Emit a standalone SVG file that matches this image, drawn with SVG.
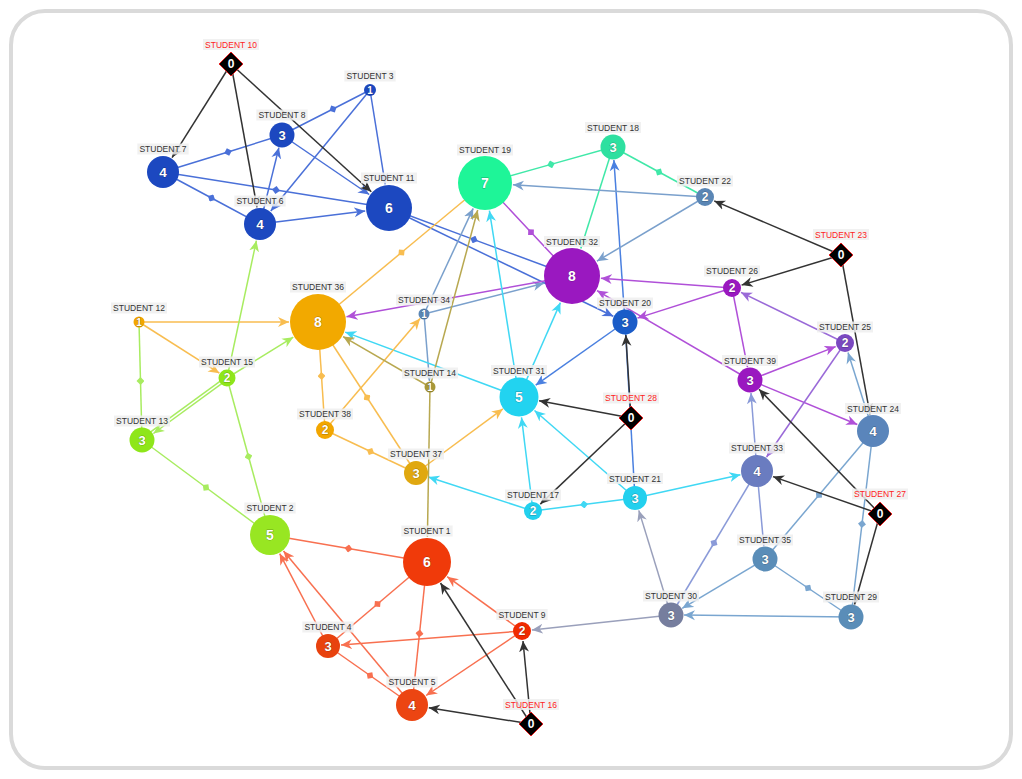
<svg xmlns="http://www.w3.org/2000/svg" width="1022" height="779" viewBox="0 0 1022 779">
<style>
.e{fill:none;stroke-width:1.5}
.k{stroke:#333}.b{stroke:#4a70d8}.b2{stroke:#4a80e0}.g{stroke:#40e8a8}.st{stroke:#7aa0cc}.p{stroke:#b050d8}.lv{stroke:#9a6ad8}.sb{stroke:#7aa6d0}.s33{stroke:#8a9ad8}.s30{stroke:#9aa0bb}.c{stroke:#40d8f4}.o{stroke:#f8bd50}.ol{stroke:#b8a850}.l{stroke:#a8ec60}.r{stroke:#f87050}
.n{font-family:"Liberation Sans",Arial,sans-serif;font-weight:bold;fill:#fff;text-anchor:middle;stroke:rgba(0,0,0,0.35);stroke-width:0.8;paint-order:stroke}
.lb{fill:#eeeeee;fill-opacity:0.85}
.lt{font-family:"Liberation Sans",Arial,sans-serif;font-size:8.5px;fill:#333;text-anchor:middle}
.lr{fill:#ff2222}
.dm{fill:#000;stroke:#e02020;stroke-width:1}
</style>
<defs>
<marker id="a-k" viewBox="0 0 10 10" refX="10" refY="5" markerWidth="11" markerHeight="11" markerUnits="userSpaceOnUse" orient="auto"><path d="M0,0.5 L10,5 L0,9.5 L3,5 Z" fill="#333"/></marker>
<marker id="a-b" viewBox="0 0 10 10" refX="10" refY="5" markerWidth="11" markerHeight="11" markerUnits="userSpaceOnUse" orient="auto"><path d="M0,0.5 L10,5 L0,9.5 L3,5 Z" fill="#4a70d8"/></marker>
<marker id="a-b2" viewBox="0 0 10 10" refX="10" refY="5" markerWidth="11" markerHeight="11" markerUnits="userSpaceOnUse" orient="auto"><path d="M0,0.5 L10,5 L0,9.5 L3,5 Z" fill="#4a80e0"/></marker>
<marker id="a-g" viewBox="0 0 10 10" refX="10" refY="5" markerWidth="11" markerHeight="11" markerUnits="userSpaceOnUse" orient="auto"><path d="M0,0.5 L10,5 L0,9.5 L3,5 Z" fill="#40e8a8"/></marker>
<marker id="a-st" viewBox="0 0 10 10" refX="10" refY="5" markerWidth="11" markerHeight="11" markerUnits="userSpaceOnUse" orient="auto"><path d="M0,0.5 L10,5 L0,9.5 L3,5 Z" fill="#7aa0cc"/></marker>
<marker id="a-p" viewBox="0 0 10 10" refX="10" refY="5" markerWidth="11" markerHeight="11" markerUnits="userSpaceOnUse" orient="auto"><path d="M0,0.5 L10,5 L0,9.5 L3,5 Z" fill="#b050d8"/></marker>
<marker id="a-lv" viewBox="0 0 10 10" refX="10" refY="5" markerWidth="11" markerHeight="11" markerUnits="userSpaceOnUse" orient="auto"><path d="M0,0.5 L10,5 L0,9.5 L3,5 Z" fill="#9a6ad8"/></marker>
<marker id="a-sb" viewBox="0 0 10 10" refX="10" refY="5" markerWidth="11" markerHeight="11" markerUnits="userSpaceOnUse" orient="auto"><path d="M0,0.5 L10,5 L0,9.5 L3,5 Z" fill="#7aa6d0"/></marker>
<marker id="a-s33" viewBox="0 0 10 10" refX="10" refY="5" markerWidth="11" markerHeight="11" markerUnits="userSpaceOnUse" orient="auto"><path d="M0,0.5 L10,5 L0,9.5 L3,5 Z" fill="#8a9ad8"/></marker>
<marker id="a-s30" viewBox="0 0 10 10" refX="10" refY="5" markerWidth="11" markerHeight="11" markerUnits="userSpaceOnUse" orient="auto"><path d="M0,0.5 L10,5 L0,9.5 L3,5 Z" fill="#9aa0bb"/></marker>
<marker id="a-c" viewBox="0 0 10 10" refX="10" refY="5" markerWidth="11" markerHeight="11" markerUnits="userSpaceOnUse" orient="auto"><path d="M0,0.5 L10,5 L0,9.5 L3,5 Z" fill="#40d8f4"/></marker>
<marker id="a-o" viewBox="0 0 10 10" refX="10" refY="5" markerWidth="11" markerHeight="11" markerUnits="userSpaceOnUse" orient="auto"><path d="M0,0.5 L10,5 L0,9.5 L3,5 Z" fill="#f8bd50"/></marker>
<marker id="a-ol" viewBox="0 0 10 10" refX="10" refY="5" markerWidth="11" markerHeight="11" markerUnits="userSpaceOnUse" orient="auto"><path d="M0,0.5 L10,5 L0,9.5 L3,5 Z" fill="#b8a850"/></marker>
<marker id="a-l" viewBox="0 0 10 10" refX="10" refY="5" markerWidth="11" markerHeight="11" markerUnits="userSpaceOnUse" orient="auto"><path d="M0,0.5 L10,5 L0,9.5 L3,5 Z" fill="#a8ec60"/></marker>
<marker id="a-r" viewBox="0 0 10 10" refX="10" refY="5" markerWidth="11" markerHeight="11" markerUnits="userSpaceOnUse" orient="auto"><path d="M0,0.5 L10,5 L0,9.5 L3,5 Z" fill="#f87050"/></marker>
<marker id="d-b" viewBox="0 0 8 8" refX="4" refY="4" markerWidth="8" markerHeight="8" markerUnits="userSpaceOnUse" orient="auto"><path d="M0,4 L4,0 L8,4 L4,8 Z" fill="#4a70d8"/></marker>
<marker id="d-g" viewBox="0 0 8 8" refX="4" refY="4" markerWidth="8" markerHeight="8" markerUnits="userSpaceOnUse" orient="auto"><path d="M0,4 L4,0 L8,4 L4,8 Z" fill="#40e8a8"/></marker>
<marker id="d-p" viewBox="0 0 8 8" refX="4" refY="4" markerWidth="8" markerHeight="8" markerUnits="userSpaceOnUse" orient="auto"><path d="M0,4 L4,0 L8,4 L4,8 Z" fill="#b050d8"/></marker>
<marker id="d-o" viewBox="0 0 8 8" refX="4" refY="4" markerWidth="8" markerHeight="8" markerUnits="userSpaceOnUse" orient="auto"><path d="M0,4 L4,0 L8,4 L4,8 Z" fill="#f8bd50"/></marker>
<marker id="d-sb" viewBox="0 0 8 8" refX="4" refY="4" markerWidth="8" markerHeight="8" markerUnits="userSpaceOnUse" orient="auto"><path d="M0,4 L4,0 L8,4 L4,8 Z" fill="#7aa6d0"/></marker>
<marker id="d-s33" viewBox="0 0 8 8" refX="4" refY="4" markerWidth="8" markerHeight="8" markerUnits="userSpaceOnUse" orient="auto"><path d="M0,4 L4,0 L8,4 L4,8 Z" fill="#8a9ad8"/></marker>
<marker id="d-c" viewBox="0 0 8 8" refX="4" refY="4" markerWidth="8" markerHeight="8" markerUnits="userSpaceOnUse" orient="auto"><path d="M0,4 L4,0 L8,4 L4,8 Z" fill="#40d8f4"/></marker>
<marker id="d-l" viewBox="0 0 8 8" refX="4" refY="4" markerWidth="8" markerHeight="8" markerUnits="userSpaceOnUse" orient="auto"><path d="M0,4 L4,0 L8,4 L4,8 Z" fill="#a8ec60"/></marker>
<marker id="d-r" viewBox="0 0 8 8" refX="4" refY="4" markerWidth="8" markerHeight="8" markerUnits="userSpaceOnUse" orient="auto"><path d="M0,4 L4,0 L8,4 L4,8 Z" fill="#f87050"/></marker>
</defs>
<rect x="0" y="0" width="1022" height="779" fill="#fff"/>
<rect x="11" y="11" width="1000" height="757" rx="34" fill="#fff" stroke="#dadada" stroke-width="4"/>

<g id="connectors">
<!-- blue cluster -->
<path class="e b" d="M370,90 L333,109 L282,135" marker-mid="url(#d-b)"/>
<path class="e b" d="M163,172 L228,152 L282,135" marker-mid="url(#d-b)"/>
<path class="e b" d="M163,172 L276,190 L389,208" marker-mid="url(#d-b)"/>
<path class="e b" d="M163,172 L211.5,198 L260,224" marker-mid="url(#d-b)"/>
<path class="e b" d="M389,208 L474,239.6 L572,276" marker-mid="url(#d-b)"/>
<line class="e b" x1="370" y1="90" x2="270.8" y2="210.9" marker-end="url(#a-b)"/>
<line class="e b" x1="370" y1="90" x2="385.2" y2="184.3" marker-end="url(#a-b)"/>
<line class="e b" x1="260" y1="224" x2="278.9" y2="147.6" marker-end="url(#a-b)"/>
<line class="e b" x1="260" y1="224" x2="365.2" y2="211" marker-end="url(#a-b)"/>
<line class="e b" x1="282" y1="135" x2="369.2" y2="194.5" marker-end="url(#a-b)"/>
<line class="e b" x1="389" y1="208" x2="613.3" y2="316.3" marker-end="url(#a-b)"/>
<!-- S20 -->
<line class="e b2" x1="625" y1="322" x2="613.9" y2="160" marker-end="url(#a-b2)"/>
<line class="e b2" x1="625" y1="322" x2="535.7" y2="385.2" marker-end="url(#a-b2)"/>
<line class="e b2" x1="625" y1="322" x2="635" y2="498"/>
<!-- green -->
<path class="e g" d="M485,183 L551,164.4 L613,147" marker-mid="url(#d-g)"/>
<path class="e g" d="M613,147 L659,172 L705,197" marker-mid="url(#d-g)"/>
<line class="e g" x1="613" y1="147" x2="580.8" y2="248.4" marker-end="url(#a-g)"/>
<!-- steel -->
<line class="e st" x1="705" y1="197" x2="512.9" y2="184.8" marker-end="url(#a-st)"/>
<line class="e st" x1="705" y1="197" x2="596.9" y2="261.2" marker-end="url(#a-st)"/>
<line class="e st" x1="424" y1="314" x2="429.5" y2="381" marker-end="url(#a-st)"/>
<line class="e st" x1="424" y1="314" x2="473.2" y2="208.4" marker-end="url(#a-st)"/>
<line class="e st" x1="424" y1="314" x2="543.9" y2="283.2" marker-end="url(#a-st)"/>
<!-- purple -->
<path class="e p" d="M572,276 L531,232.2 L485,183" marker-mid="url(#d-p)"/>
<line class="e p" x1="732" y1="288" x2="600.9" y2="278.2" marker-end="url(#a-p)"/>
<line class="e p" x1="732" y1="288" x2="637.4" y2="318.1" marker-end="url(#a-p)"/>
<line class="e p" x1="732" y1="288" x2="747.5" y2="367.2" marker-end="url(#a-p)"/>
<line class="e p" x1="750" y1="380" x2="835.7" y2="346.6" marker-end="url(#a-p)"/>
<line class="e p" x1="750" y1="380" x2="857.3" y2="424.5" marker-end="url(#a-p)"/>
<line class="e p" x1="750" y1="380" x2="597" y2="290.6" marker-end="url(#a-p)"/>
<line class="e p" x1="572" y1="276" x2="346.5" y2="316.8" marker-end="url(#a-p)"/>
<line class="e lv" x1="845" y1="343" x2="741" y2="292.4" marker-end="url(#a-lv)"/>
<line class="e lv" x1="845" y1="343" x2="766.6" y2="457" marker-end="url(#a-lv)"/>
<!-- steel blue right -->
<path class="e sb" d="M873,431 L819,495 L765,559" marker-mid="url(#d-sb)"/>
<path class="e sb" d="M873,431 L862,524 L851,617" marker-mid="url(#d-sb)"/>
<path class="e sb" d="M765,559 L808,588 L851,617" marker-mid="url(#d-sb)"/>
<line class="e sb" x1="873" y1="431" x2="848" y2="352.5" marker-end="url(#a-sb)"/>
<line class="e sb" x1="765" y1="559" x2="682.2" y2="608.3" marker-end="url(#a-sb)"/>
<line class="e sb" x1="851" y1="617" x2="684" y2="615.1" marker-end="url(#a-sb)"/>
<path class="e s33" d="M757,471 L714,543 L671,615" marker-mid="url(#d-s33)"/>
<line class="e s33" x1="757" y1="471" x2="751" y2="393" marker-end="url(#a-s33)"/>
<line class="e s33" x1="757" y1="471" x2="763.8" y2="546.1" marker-end="url(#a-s33)"/>
<line class="e s30" x1="671" y1="615" x2="638.8" y2="510.4" marker-end="url(#a-s30)"/>
<line class="e s30" x1="671" y1="615" x2="531.9" y2="629.9" marker-end="url(#a-s30)"/>
<!-- cyan -->
<path class="e c" d="M635,498 L584,504.5 L533,511" marker-mid="url(#d-c)"/>
<line class="e c" x1="635" y1="498" x2="740.4" y2="474.7" marker-end="url(#a-c)"/>
<line class="e c" x1="635" y1="498" x2="534.5" y2="410.5" marker-end="url(#a-c)"/>
<line class="e c" x1="533" y1="511" x2="521.5" y2="417.4" marker-end="url(#a-c)"/>
<line class="e c" x1="533" y1="511" x2="428.4" y2="477" marker-end="url(#a-c)"/>
<line class="e c" x1="519" y1="397" x2="345.2" y2="332.1" marker-end="url(#a-c)"/>
<line class="e c" x1="519" y1="397" x2="489.4" y2="210.7" marker-end="url(#a-c)"/>
<line class="e c" x1="519" y1="397" x2="560.4" y2="302.6" marker-end="url(#a-c)"/>
<!-- orange -->
<path class="e o" d="M318,322 L401.5,252.5 L485,183" marker-mid="url(#d-o)"/>
<path class="e o" d="M416,473 L370.5,451.5 L325,430" marker-mid="url(#d-o)"/>
<path class="e o" d="M416,473 L367,397.5 L318,322" marker-mid="url(#d-o)"/>
<path class="e o" d="M318,322 L321.5,376 L325,430" marker-mid="url(#d-o)"/>
<line class="e o" x1="416" y1="473" x2="502.9" y2="408.9" marker-end="url(#a-o)"/>
<line class="e o" x1="325" y1="430" x2="420.1" y2="318.6" marker-end="url(#a-o)"/>
<line class="e o" x1="139" y1="322" x2="289" y2="322" marker-end="url(#a-o)"/>
<line class="e o" x1="139" y1="322" x2="219.4" y2="373.2" marker-end="url(#a-o)"/>
<!-- olive -->
<line class="e ol" x1="430" y1="387" x2="343.1" y2="336.6" marker-end="url(#a-ol)"/>
<line class="e ol" x1="430" y1="387" x2="477.7" y2="210" marker-end="url(#a-ol)"/>
<line class="e ol" x1="430" y1="387" x2="427.4" y2="537" marker-end="url(#a-ol)"/>
<!-- lime -->
<path class="e l" d="M142,440 L140.5,381 L139,322" marker-mid="url(#d-l)"/>
<path class="e l" d="M227,378 L248.5,456.5 L270,535" marker-mid="url(#d-l)"/>
<path class="e l" d="M142,440 L206,487.5 L270,535" marker-mid="url(#d-l)"/>
<line class="e l" x1="227" y1="378" x2="293.3" y2="337.2" marker-end="url(#a-l)"/>
<line class="e l" x1="227.9" y1="379.2" x2="153.4" y2="433.5" marker-end="url(#a-l)"/>
<line class="e l" x1="226.1" y1="376.8" x2="141.1" y2="438.8"/>
<line class="e l" x1="227" y1="378" x2="256.4" y2="240.6" marker-end="url(#a-l)"/>
<!-- red -->
<path class="e r" d="M427,562 L348.5,548.5 L270,535" marker-mid="url(#d-r)"/>
<path class="e r" d="M427,562 L377.5,604 L328,646" marker-mid="url(#d-r)"/>
<path class="e r" d="M427,562 L419.5,633.5 L412,705" marker-mid="url(#d-r)"/>
<path class="e r" d="M328,646 L370,675.5 L412,705" marker-mid="url(#d-r)"/>
<line class="e r" x1="522" y1="631" x2="447.2" y2="576.7" marker-end="url(#a-r)"/>
<line class="e r" x1="522" y1="631" x2="341" y2="645" marker-end="url(#a-r)"/>
<line class="e r" x1="522" y1="631" x2="426.1" y2="695.5" marker-end="url(#a-r)"/>
<line class="e r" x1="328" y1="646" x2="279.7" y2="553.6" marker-end="url(#a-r)"/>
<line class="e r" x1="412" y1="705" x2="283.5" y2="551.1" marker-end="url(#a-r)"/>
<!-- black -->
<line class="e k" x1="231" y1="64" x2="172.1" y2="157.6" marker-end="url(#a-k)"/>
<line class="e k" x1="231" y1="64" x2="257" y2="207.3" marker-end="url(#a-k)"/>
<line class="e k" x1="231" y1="64" x2="371.3" y2="191.8" marker-end="url(#a-k)"/>
<line class="e k" x1="841" y1="255" x2="714.2" y2="200.9" marker-end="url(#a-k)"/>
<line class="e k" x1="841" y1="255" x2="741.6" y2="285.1" marker-end="url(#a-k)"/>
<line class="e k" x1="841" y1="255" x2="870" y2="414.3" marker-end="url(#a-k)"/>
<line class="e k" x1="880" y1="514" x2="759" y2="389.3" marker-end="url(#a-k)"/>
<line class="e k" x1="880" y1="514" x2="773" y2="476.6" marker-end="url(#a-k)"/>
<line class="e k" x1="880" y1="514" x2="854.5" y2="604.5" marker-end="url(#a-k)"/>
<line class="e k" x1="631" y1="418" x2="539.1" y2="400.8" marker-end="url(#a-k)"/>
<line class="e k" x1="631" y1="418" x2="540.3" y2="504.1" marker-end="url(#a-k)"/>
<line class="e k" x1="631" y1="418" x2="625.8" y2="335" marker-end="url(#a-k)"/>
<line class="e k" x1="531" y1="724" x2="440.5" y2="583" marker-end="url(#a-k)"/>
<line class="e k" x1="531" y1="724" x2="523" y2="641" marker-end="url(#a-k)"/>
<line class="e k" x1="531" y1="724" x2="428.8" y2="707.7" marker-end="url(#a-k)"/>
</g>

<g id="s1"><circle cx="427" cy="562" r="24" fill="#f03a0a"/><text class="n" x="427" y="567" font-size="14">6</text><rect class="lb" x="401.4" y="525.5" width="51.2" height="11"/><text class="lt" x="427" y="534">STUDENT 1</text></g>
<g id="s2"><circle cx="270" cy="535" r="20" fill="#98e622"/><text class="n" x="270" y="540" font-size="14">5</text><rect class="lb" x="244.4" y="502.5" width="51.2" height="11"/><text class="lt" x="270" y="511">STUDENT 2</text></g>
<g id="s3"><circle cx="370" cy="90" r="6" fill="#1c48c0"/><text class="n" x="370" y="93.6" font-size="10">1</text><rect class="lb" x="344.4" y="70.5" width="51.2" height="11"/><text class="lt" x="370" y="79">STUDENT 3</text></g>
<g id="s4"><circle cx="328" cy="646" r="12" fill="#e8420e"/><text class="n" x="328" y="650.7" font-size="13">3</text><rect class="lb" x="302.4" y="621.5" width="51.2" height="11"/><text class="lt" x="328" y="630">STUDENT 4</text></g>
<g id="s5"><circle cx="412" cy="705" r="16" fill="#ec4512"/><text class="n" x="412" y="709.9" font-size="13.5">4</text><rect class="lb" x="386.4" y="676.5" width="51.2" height="11"/><text class="lt" x="412" y="685">STUDENT 5</text></g>
<g id="s6"><circle cx="260" cy="224" r="16" fill="#1c48c0"/><text class="n" x="260" y="228.9" font-size="13.5">4</text><rect class="lb" x="234.4" y="195.5" width="51.2" height="11"/><text class="lt" x="260" y="204">STUDENT 6</text></g>
<g id="s7"><circle cx="163" cy="172" r="16" fill="#1c48c0"/><text class="n" x="163" y="176.9" font-size="13.5">4</text><rect class="lb" x="137.4" y="143.5" width="51.2" height="11"/><text class="lt" x="163" y="152">STUDENT 7</text></g>
<g id="s8"><circle cx="282" cy="135" r="12.5" fill="#1c48c0"/><text class="n" x="282" y="139.7" font-size="13">3</text><rect class="lb" x="256.4" y="109.5" width="51.2" height="11"/><text class="lt" x="282" y="118">STUDENT 8</text></g>
<g id="s9"><circle cx="522" cy="631" r="9" fill="#f02a00"/><text class="n" x="522" y="635.3" font-size="12">2</text><rect class="lb" x="496.4" y="609" width="51.2" height="11"/><text class="lt" x="522" y="617.5">STUDENT 9</text></g>
<g id="s10"><polygon class="dm" points="231,52 243,64 231,76 219,64"/><text class="n" x="231" y="68.3" font-size="12">0</text><rect class="lb" x="203" y="39" width="56" height="11"/><text class="lt lr" x="231" y="47.5">STUDENT 10</text></g>
<g id="s11"><circle cx="389" cy="208" r="23" fill="#1c48c0"/><text class="n" x="389" y="213" font-size="14">6</text><rect class="lb" x="361" y="172.5" width="56" height="11"/><text class="lt" x="389" y="181">STUDENT 11</text></g>
<g id="s12"><circle cx="139" cy="322" r="5.5" fill="#f2a600"/><text class="n" x="139" y="325.6" font-size="10">1</text><rect class="lb" x="111" y="302.5" width="56" height="11"/><text class="lt" x="139" y="311">STUDENT 12</text></g>
<g id="s13"><circle cx="142" cy="440" r="12.5" fill="#8ee61a"/><text class="n" x="142" y="444.7" font-size="13">3</text><rect class="lb" x="114" y="415.5" width="56" height="11"/><text class="lt" x="142" y="424">STUDENT 13</text></g>
<g id="s14"><circle cx="430" cy="387" r="5.5" fill="#a89838"/><text class="n" x="430" y="390.6" font-size="10">1</text><rect class="lb" x="402" y="367.5" width="56" height="11"/><text class="lt" x="430" y="376">STUDENT 14</text></g>
<g id="s15"><circle cx="227" cy="378" r="8.5" fill="#8ee61a"/><text class="n" x="227" y="382.3" font-size="12">2</text><rect class="lb" x="199" y="356.5" width="56" height="11"/><text class="lt" x="227" y="365">STUDENT 15</text></g>
<g id="s16"><polygon class="dm" points="531,712 543,724 531,736 519,724"/><text class="n" x="531" y="728.3" font-size="12">0</text><rect class="lb" x="503" y="699" width="56" height="11"/><text class="lt lr" x="531" y="707.5">STUDENT 16</text></g>
<g id="s17"><circle cx="533" cy="511" r="9" fill="#22d0ee"/><text class="n" x="533" y="515.3" font-size="12">2</text><rect class="lb" x="505" y="489.5" width="56" height="11"/><text class="lt" x="533" y="498">STUDENT 17</text></g>
<g id="s18"><circle cx="613" cy="147" r="12.5" fill="#2ee0a0"/><text class="n" x="613" y="151.7" font-size="13">3</text><rect class="lb" x="585" y="122" width="56" height="11"/><text class="lt" x="613" y="130.5">STUDENT 18</text></g>
<g id="s19"><circle cx="485" cy="183" r="27" fill="#1ef598"/><text class="n" x="485" y="188" font-size="14">7</text><rect class="lb" x="457" y="144.5" width="56" height="11"/><text class="lt" x="485" y="153">STUDENT 19</text></g>
<g id="s20"><circle cx="625" cy="322" r="12.5" fill="#1a5cc8"/><text class="n" x="625" y="326.7" font-size="13">3</text><rect class="lb" x="597" y="297.5" width="56" height="11"/><text class="lt" x="625" y="306">STUDENT 20</text></g>
<g id="s21"><circle cx="635" cy="498" r="12" fill="#22d0ee"/><text class="n" x="635" y="502.7" font-size="13">3</text><rect class="lb" x="607" y="473" width="56" height="11"/><text class="lt" x="635" y="481.5">STUDENT 21</text></g>
<g id="s22"><circle cx="705" cy="197" r="9" fill="#5a86b5"/><text class="n" x="705" y="201.3" font-size="12">2</text><rect class="lb" x="677" y="175.5" width="56" height="11"/><text class="lt" x="705" y="184">STUDENT 22</text></g>
<g id="s23"><polygon class="dm" points="841,243 853,255 841,267 829,255"/><text class="n" x="841" y="259.3" font-size="12">0</text><rect class="lb" x="813" y="229" width="56" height="11"/><text class="lt lr" x="841" y="237.5">STUDENT 23</text></g>
<g id="s24"><circle cx="873" cy="431" r="16" fill="#5a85bb"/><text class="n" x="873" y="435.9" font-size="13.5">4</text><rect class="lb" x="845" y="403" width="56" height="11"/><text class="lt" x="873" y="411.5">STUDENT 24</text></g>
<g id="s25"><circle cx="845" cy="343" r="9" fill="#7a48c0"/><text class="n" x="845" y="347.3" font-size="12">2</text><rect class="lb" x="817" y="321.5" width="56" height="11"/><text class="lt" x="845" y="330">STUDENT 25</text></g>
<g id="s26"><circle cx="732" cy="288" r="9" fill="#9a18c0"/><text class="n" x="732" y="292.3" font-size="12">2</text><rect class="lb" x="704" y="265.5" width="56" height="11"/><text class="lt" x="732" y="274">STUDENT 26</text></g>
<g id="s27"><polygon class="dm" points="880,502 892,514 880,526 868,514"/><text class="n" x="880" y="518.3" font-size="12">0</text><rect class="lb" x="852" y="488.5" width="56" height="11"/><text class="lt lr" x="880" y="497">STUDENT 27</text></g>
<g id="s28"><polygon class="dm" points="631,406 643,418 631,430 619,418"/><text class="n" x="631" y="422.3" font-size="12">0</text><rect class="lb" x="603" y="392.5" width="56" height="11"/><text class="lt lr" x="631" y="401">STUDENT 28</text></g>
<g id="s29"><circle cx="851" cy="617" r="12.5" fill="#5a8db8"/><text class="n" x="851" y="621.7" font-size="13">3</text><rect class="lb" x="823" y="591.5" width="56" height="11"/><text class="lt" x="851" y="600">STUDENT 29</text></g>
<g id="s30"><circle cx="671" cy="615" r="12.5" fill="#767e9e"/><text class="n" x="671" y="619.7" font-size="13">3</text><rect class="lb" x="643" y="590.5" width="56" height="11"/><text class="lt" x="671" y="599">STUDENT 30</text></g>
<g id="s31"><circle cx="519" cy="397" r="19.5" fill="#22d3f0"/><text class="n" x="519" y="402" font-size="14">5</text><rect class="lb" x="491" y="365" width="56" height="11"/><text class="lt" x="519" y="373.5">STUDENT 31</text></g>
<g id="s32"><circle cx="572" cy="276" r="28" fill="#9a18c0"/><text class="n" x="572" y="281" font-size="14">8</text><rect class="lb" x="544" y="236" width="56" height="11"/><text class="lt" x="572" y="244.5">STUDENT 32</text></g>
<g id="s33"><circle cx="757" cy="471" r="16" fill="#6a7cc0"/><text class="n" x="757" y="475.9" font-size="13.5">4</text><rect class="lb" x="729" y="442.5" width="56" height="11"/><text class="lt" x="757" y="451">STUDENT 33</text></g>
<g id="s34"><circle cx="424" cy="314" r="5.5" fill="#5a86b5"/><text class="n" x="424" y="317.6" font-size="10">1</text><rect class="lb" x="396" y="294.5" width="56" height="11"/><text class="lt" x="424" y="303">STUDENT 34</text></g>
<g id="s35"><circle cx="765" cy="559" r="12.5" fill="#5a8db8"/><text class="n" x="765" y="563.7" font-size="13">3</text><rect class="lb" x="737" y="534.5" width="56" height="11"/><text class="lt" x="765" y="543">STUDENT 35</text></g>
<g id="s36"><circle cx="318" cy="322" r="28" fill="#f2a900"/><text class="n" x="318" y="327" font-size="14">8</text><rect class="lb" x="290" y="281.5" width="56" height="11"/><text class="lt" x="318" y="290">STUDENT 36</text></g>
<g id="s37"><circle cx="416" cy="473" r="12" fill="#e0a810"/><text class="n" x="416" y="477.7" font-size="13">3</text><rect class="lb" x="388" y="448.5" width="56" height="11"/><text class="lt" x="416" y="457">STUDENT 37</text></g>
<g id="s38"><circle cx="325" cy="430" r="9" fill="#f2a600"/><text class="n" x="325" y="434.3" font-size="12">2</text><rect class="lb" x="297" y="408.5" width="56" height="11"/><text class="lt" x="325" y="417">STUDENT 38</text></g>
<g id="s39"><circle cx="750" cy="380" r="12.5" fill="#9a18c0"/><text class="n" x="750" y="384.7" font-size="13">3</text><rect class="lb" x="722" y="355" width="56" height="11"/><text class="lt" x="750" y="363.5">STUDENT 39</text></g>
</svg>
